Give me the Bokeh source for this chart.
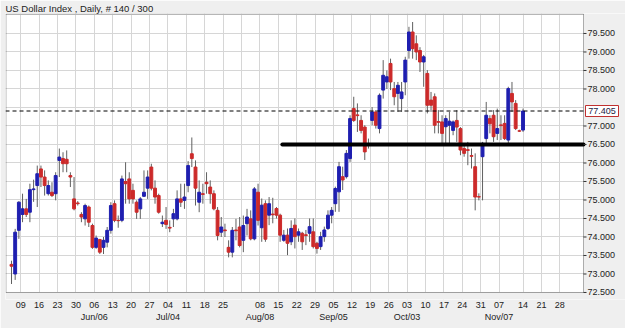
from bokeh.plotting import figure
from bokeh.models import (FixedTicker, Range1d, ColumnDataSource, Grid, BoxAnnotation)
from bokeh.core.properties import value
from bokeh.embed import file_html
from bokeh.resources import INLINE

# ---------------- data ----------------
opens = [73.26, 73.00, 74.18, 74.61, 74.76, 74.67, 75.28, 75.39, 75.84, 75.62,
         75.17, 75.21, 75.17, 76.07, 76.12, 76.10, 75.66, 75.03, 74.92, 74.61,
         74.49, 74.81, 74.31, 73.72, 73.93, 73.72, 73.86, 74.18, 74.90, 74.45,
         74.45, 75.50, 75.57, 75.26, 74.94, 74.76, 75.10, 75.32, 75.89, 75.32,
         75.12, 74.36, 74.45, 74.26, 74.49, 74.49, 75.03, 74.99, 75.39, 76.25,
         75.89, 74.94, 75.17, 75.48, 75.35, 75.17, 74.72, 74.13, 74.19, 73.72,
         73.59, 74.19, 74.27, 73.91, 74.36, 74.49, 73.95, 75.21, 74.25, 74.90,
         74.59, 74.62, 74.77, 74.59, 73.91, 74.05, 73.87, 74.32, 74.05, 74.10,
         74.06, 74.10, 74.14, 73.83, 73.74, 74.01, 74.23, 74.59, 74.90, 75.22,
         75.63, 75.63, 76.12, 77.47, 77.30, 77.15, 76.97, 76.51, 77.15, 77.38,
         76.93, 77.97, 78.19, 78.69, 78.01, 77.88, 77.74, 78.19, 79.04, 79.54,
         79.22, 79.04, 78.73, 78.42, 77.70, 77.79, 77.12, 77.11, 76.98, 77.02,
         76.88, 77.15, 76.93, 76.39, 76.36, 76.20, 75.90, 75.09, 76.17, 76.66,
         77.20, 77.29, 76.80, 77.03, 77.07, 76.62, 77.88, 77.61, 76.87, 76.89]
highs = [73.36, 74.22, 74.97, 75.17, 75.03, 75.44, 75.55, 75.93, 75.93, 75.80,
         75.53, 75.48, 75.75, 76.39, 76.29, 76.34, 75.75, 75.62, 74.97, 74.67,
         74.90, 74.85, 74.36, 74.04, 73.95, 74.00, 74.27, 74.94, 74.99, 74.58,
         75.66, 76.02, 75.75, 75.44, 74.99, 75.08, 75.80, 75.80, 75.98, 75.53,
         75.17, 74.58, 74.81, 74.45, 74.76, 75.26, 75.44, 75.44, 76.05, 76.69,
         76.07, 75.53, 75.44, 75.75, 75.53, 75.26, 74.81, 74.54, 74.36, 73.91,
         74.27, 74.49, 74.54, 74.58, 74.76, 74.72, 75.35, 75.44, 75.04, 74.99,
         75.08, 75.06, 74.81, 74.63, 74.19, 74.23, 74.45, 74.50, 74.23, 74.14,
         74.19, 74.50, 74.50, 73.87, 74.14, 74.28, 74.72, 74.81, 75.36, 76.03,
         75.90, 76.35, 77.29, 77.79, 77.61, 77.29, 77.02, 76.66, 77.51, 77.43,
         77.88, 78.78, 78.50, 78.82, 78.19, 78.19, 78.19, 78.87, 79.68, 79.81,
         79.45, 79.13, 78.92, 78.51, 77.92, 77.88, 77.43, 77.29, 77.29, 77.38,
         77.15, 77.43, 76.97, 76.53, 76.57, 76.39, 76.26, 75.18, 76.57, 77.65,
         77.29, 77.43, 77.47, 77.29, 77.29, 78.06, 78.19, 77.70, 76.90, 77.47]
lows = [72.73, 72.84, 73.95, 74.40, 74.54, 74.40, 74.95, 74.81, 75.35, 75.12,
        75.12, 75.08, 74.99, 75.62, 75.75, 75.75, 75.35, 74.72, 74.85, 74.40,
        74.31, 74.27, 73.68, 73.68, 73.54, 73.54, 73.72, 74.09, 74.40, 74.25,
        74.40, 74.90, 74.90, 74.90, 74.49, 74.49, 75.08, 75.03, 75.26, 74.90,
        74.63, 74.27, 74.22, 74.13, 74.27, 74.45, 74.81, 74.76, 75.21, 75.89,
        74.85, 74.67, 74.90, 75.17, 74.90, 74.72, 73.91, 74.00, 74.00, 73.45,
        73.45, 73.91, 73.72, 73.59, 74.04, 73.91, 73.91, 74.31, 73.87, 73.87,
        74.32, 74.37, 74.50, 73.87, 73.87, 73.51, 73.78, 73.69, 73.87, 73.65,
        73.78, 73.87, 73.69, 73.55, 73.65, 73.87, 74.19, 74.37, 74.68, 74.68,
        75.27, 75.58, 76.03, 77.11, 76.84, 76.80, 76.08, 76.39, 77.02, 76.93,
        76.80, 77.74, 78.00, 77.97, 77.56, 77.38, 77.38, 77.83, 78.82, 78.82,
        78.78, 78.46, 78.06, 77.34, 77.38, 76.80, 76.80, 76.53, 76.53, 76.53,
        76.75, 76.57, 76.21, 76.17, 75.94, 75.85, 74.72, 74.99, 74.99, 76.53,
        76.80, 76.57, 76.62, 76.62, 76.62, 76.53, 77.38, 76.89, 76.84, 76.84]
closes = [73.21, 74.13, 74.94, 74.76, 74.61, 75.28, 75.30, 75.71, 75.62, 75.39,
          75.39, 75.12, 75.66, 76.16, 75.98, 75.98, 75.62, 74.76, 74.90, 74.54,
          74.85, 74.40, 73.72, 73.97, 73.59, 73.91, 74.18, 74.85, 74.45, 74.44,
          75.57, 75.44, 75.03, 75.03, 74.67, 75.03, 75.21, 75.62, 75.32, 75.08,
          74.67, 74.40, 74.34, 74.24, 74.63, 75.03, 74.94, 75.08, 75.93, 76.12,
          75.32, 75.21, 75.15, 75.44, 75.17, 74.76, 74.04, 74.27, 74.17, 73.59,
          74.18, 74.17, 73.77, 74.31, 74.54, 73.95, 75.30, 74.45, 74.86, 73.94,
          74.90, 74.60, 74.59, 74.05, 74.05, 73.83, 74.23, 74.01, 74.14, 73.87,
          74.04, 74.28, 73.74, 73.69, 74.01, 74.19, 74.59, 74.72, 75.31, 75.90,
          75.54, 76.26, 77.20, 77.15, 77.28, 76.88, 76.30, 76.49, 77.38, 77.02,
          77.83, 78.37, 78.33, 78.19, 77.79, 78.10, 77.92, 78.78, 79.54, 79.09,
          79.00, 78.73, 78.87, 77.56, 77.56, 77.02, 77.10, 76.80, 77.20, 77.13,
          77.11, 76.97, 76.35, 76.26, 76.34, 76.18, 75.08, 75.08, 76.53, 77.29,
          77.06, 76.71, 76.93, 77.01, 76.66, 78.01, 77.65, 76.93, 76.86, 77.405]

# x-axis week ticks (bar index) and their labels
tick_pos = [2.5, 7.5, 12.5, 17.5, 22.5, 27.5, 32.5, 37.5, 42.5, 47.5,
            52.5, 57.5, 62.5, 67.5, 72.5, 77.5, 82.5, 87.5, 92.5, 97.5,
            102.5, 107.5, 112.5, 117.5, 122.5, 127.5, 132.5, 139.0, 144.0, 149.0]
day_labels = ["09", "16", "23", "30", "06", "13", "20", "27", "04", "11",
              "18", "25", "", "08", "15", "22", "29", "05", "12", "19",
              "26", "03", "10", "17", "24", "31", "07", "14", "21", "28"]
month_labels = {"06": "Jun/06", "04": "Jul/04", "08": "Aug/08",
                "05": "Sep/05", "03": "Oct/03", "07": "Nov/07"}
price_ticks = [72.5, 73.0, 73.5, 74.0, 74.5, 75.0, 75.5, 76.0, 76.5, 77.0,
               78.0, 78.5, 79.0, 79.5]
grid_ticks = [72.5, 73.0, 73.5, 74.0, 74.5, 75.0, 75.5, 76.0, 76.5, 77.0,
              77.5, 78.0, 78.5, 79.0, 79.5, 80.0]
support_level = 76.5
support_start = 73.6
title_text = "US Dollar Index , Daily, # 140 / 300"

# ---------------- layout constants ----------------
FONT = "Liberation Sans"
UP, DOWN, WICK = "#1f1fb0", "#cc2a2a", "#606060"
BG = "#efefef"
W, H = 625, 328
PLOT_L, PLOT_R = 5, 583          # pixel edges of the chart box
PLOT_B, FRAME_B = 292, 299       # chart box bottom / drawing frame bottom
PX_PER_BAR = 3.68
FIRST_BAR_PX = 11
Y_LO, Y_HI = 72.5, 80.04
PX_PER_UNIT = 37.0


def px_to_bar(px):
    return (px - FIRST_BAR_PX) / PX_PER_BAR


x_lo = px_to_bar(PLOT_L)
x_plot_end = px_to_bar(PLOT_R)
x_hi = px_to_bar(W)
y_frame_lo = Y_LO - (FRAME_B - PLOT_B) / PX_PER_UNIT

idx = list(range(len(closes)))
body_top = [max(o, c) for o, c in zip(opens, closes)]
body_bot = [min(o, c) for o, c in zip(opens, closes)]
colors = [UP if c >= o else DOWN for o, c in zip(opens, closes)]
src = ColumnDataSource(dict(x=idx, o=opens, h=highs, l=lows, c=closes,
                            top=body_top, bot=body_bot, col=colors))

p = figure(width=W, height=H, output_backend="svg", toolbar_location=None,
           x_range=Range1d(x_lo, x_hi), y_range=Range1d(y_frame_lo, Y_HI),
           y_axis_location=None,
           min_border_left=PLOT_L, min_border_right=0, min_border_bottom=H - FRAME_B,
           min_border_top=0)
p.border_fill_color = BG
p.background_fill_color = "white"
p.outline_line_color = None

p.title.text = title_text
p.title.text_font = FONT
p.title.text_font_size = "9.5px"
p.title.text_font_style = "normal"
p.title.text_color = "#222222"
p.title.text_line_height = 1.0
p.title.standoff = 0
p.title.offset = 0

# grids
p.xgrid.ticker = FixedTicker(ticks=tick_pos)
p.xgrid.grid_line_color = "#d6d6d6"
p.add_layout(Grid(dimension=1, ticker=FixedTicker(ticks=grid_ticks),
                  grid_line_color="#d6d6d6"))

# gray areas outside the chart box (right price scale, strip below)
p.add_layout(BoxAnnotation(left=x_plot_end, fill_color=BG, fill_alpha=1.0,
                           line_color=None, level="underlay"))
p.add_layout(BoxAnnotation(top=Y_LO, fill_color=BG, fill_alpha=1.0,
                           line_color=None, level="underlay"))

# bottom axis
xa = p.xaxis[0]
xa.ticker = FixedTicker(ticks=tick_pos)
xa.major_label_overrides = {t: (lab + "\n" + month_labels[lab] if lab in month_labels and t > 20 else lab)
                            for t, lab in zip(tick_pos, day_labels)}
xa.axis_line_color = None
xa.major_tick_line_color = None
xa.minor_tick_line_color = None
xa.major_tick_out = 0
xa.major_tick_in = 0
xa.major_label_standoff = 0
xa.major_label_text_font = FONT
xa.major_label_text_font_size = "9px"
xa.major_label_text_line_height = 1.25
xa.major_label_text_color = "#222222"

# candles
p.segment(x0="x", y0="l", x1="x", y1="h", source=src, line_color=WICK, line_width=1)
p.vbar(x="x", top="top", bottom="bot", width=0.78, source=src,
       fill_color="col", line_color="col", line_width=1)

# last price dashed line (chart box only)
p.segment(x0=[x_lo], y0=[closes[-1]], x1=[x_plot_end], y1=[closes[-1]],
          line_color="black", line_dash="4 3", line_width=1)

# support line
p.segment(x0=[support_start], y0=[support_level], x1=[x_plot_end], y1=[support_level],
          line_color="black", line_width=4, line_cap="round")

# chart box border
p.add_layout(BoxAnnotation(left=x_lo + 0.5 / PX_PER_BAR, right=x_plot_end,
                           bottom=Y_LO, top=Y_HI - 0.5 / PX_PER_UNIT,
                           fill_color=None, line_color="black", line_width=1,
                           level="overlay"))

# right price scale: tick marks and labels
n = len(price_ticks)
p.segment(x0=[x_plot_end] * n, y0=price_ticks, x1=[px_to_bar(PLOT_R + 3)] * n, y1=price_ticks,
          line_color="#333333", line_width=1)
p.text(x=[x_plot_end] * n, y=price_ticks, text=[f"{v:.3f}" for v in price_ticks],
       x_offset=4, text_align="left", text_baseline="middle",
       text_font=value(FONT), text_font_size="9px", text_color="#222222")

# last price box
p.rect(x=[px_to_bar(PLOT_R + 18.5)], y=[closes[-1]], width=33, height=11,
       width_units="screen", height_units="screen",
       fill_color="white", line_color="#c03030", line_width=1)
p.text(x=[px_to_bar(PLOT_R + 18.5)], y=[closes[-1]], text=[f"{closes[-1]:.3f}"],
       text_align="center", text_baseline="middle",
       text_font=value(FONT), text_font_size="9px", text_color="#222244")

open("out.html", "w").write(file_html(p, INLINE))
